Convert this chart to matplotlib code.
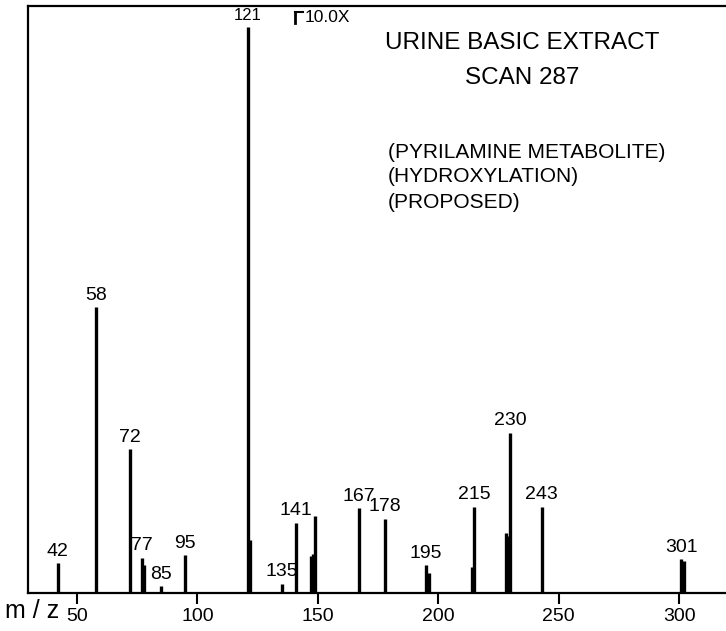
import numpy as np
import matplotlib
matplotlib.use("Agg")
from matplotlib import pyplot as plt
from matplotlib.lines import Line2D

plt.rcParams['font.family'] = ['Liberation Sans', 'DejaVu Sans']

# spectrum (121 = 100)
mz = [42, 58, 72, 77, 78, 85, 95, 121, 122, 135, 141, 147, 148, 149,
      167, 178, 195, 196, 214, 215, 228, 229, 230, 243, 301, 302]
inten = [5.3, 50.5, 25.4, 6.2, 5.0, 1.2, 6.7, 100, 9.4, 1.6, 12.4, 6.5, 6.9, 13.6,
         15.0, 13.1, 4.9, 3.5, 4.6, 15.2, 10.6, 10.0, 28.3, 15.2, 6.0, 5.6]
labeled = [42, 58, 72, 77, 85, 95, 121, 135, 141, 167, 178, 195, 215, 230, 243, 301]
xticks = [50, 100, 150, 200, 250, 300]

fig = plt.figure(figsize=(7.26, 6.31), dpi=100)
ax = fig.add_axes([28/726, 38/631, 698/726, 587/631])

ax.vlines(mz, 0, inten, color='black', linewidth=2.4)

for m, v in zip(mz, inten):
    if m in labeled:
        fs = 12 if m == 121 else 14
        ax.annotate(str(m), (m, v), xytext=(0, 2.5), textcoords='offset points',
                    ha='center', va='bottom', fontsize=fs)

ax.set_xlim(29.65, 319.5)
ax.set_ylim(0, 103.7)
ax.set_xticks(xticks)
ax.set_xticklabels([str(t) for t in xticks])
ax.set_yticks([])
ax.tick_params(axis='x', direction='out', length=8, width=1.5, labelsize=14, pad=3)
ax.spines['right'].set_visible(False)
for s in ['top', 'left', 'bottom']:
    ax.spines[s].set_linewidth(1.6)

# text block
ax.text(0.708, 0.937, 'URINE BASIC EXTRACT', transform=ax.transAxes,
        ha='center', va='center', fontsize=17.5)
ax.text(0.708, 0.877, 'SCAN 287', transform=ax.transAxes,
        ha='center', va='center', fontsize=17.5)
ax.text(0.516, 0.751, '(PYRILAMINE METABOLITE)', transform=ax.transAxes,
        ha='left', va='center', fontsize=15)
ax.text(0.516, 0.709, '(HYDROXYLATION)', transform=ax.transAxes,
        ha='left', va='center', fontsize=15)
ax.text(0.516, 0.666, '(PROPOSED)', transform=ax.transAxes,
        ha='left', va='center', fontsize=15)
ax.text(0.397, 0.981, '10.0X', transform=ax.transAxes,
        ha='left', va='center', fontsize=12.5)

# little bracket in front of the 10.0X
fig.add_artist(Line2D([295/726, 295/726], [(631-23)/631, (631-12)/631],
                      color='black', linewidth=2, transform=fig.transFigure))
fig.add_artist(Line2D([295/726, 303/726], [(631-12)/631, (631-12)/631],
                      color='black', linewidth=1.5, transform=fig.transFigure))

fig.text(5/726, 13/631, 'm / z', ha='left', va='baseline', fontsize=18)

plt.savefig('out.png', dpi=100)
